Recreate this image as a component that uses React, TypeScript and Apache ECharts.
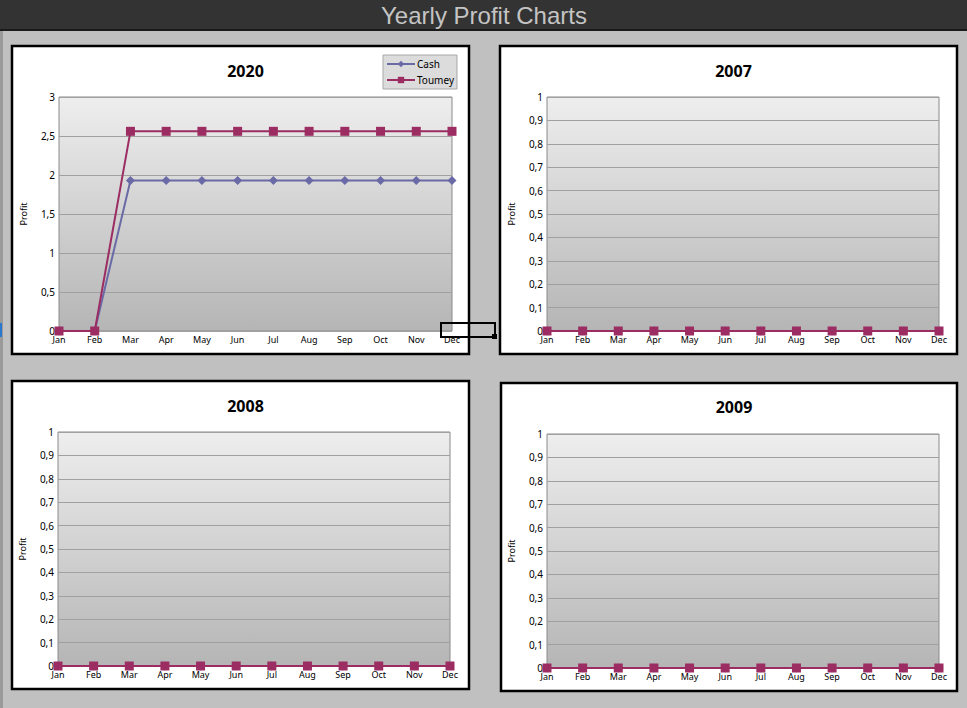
import React, { useEffect, useRef } from "react";
import * as echarts from "echarts";

const months = ["Jan", "Feb", "Mar", "Apr", "May", "Jun", "Jul", "Aug", "Sep", "Oct", "Nov", "Dec"];
const panelYears = ["2020", "2007", "2008", "2009"];
const cash2020 = [0, 0, 1.93, 1.93, 1.93, 1.93, 1.93, 1.93, 1.93, 1.93, 1.93, 1.93];
const toumey2020 = [0, 0, 2.56, 2.56, 2.56, 2.56, 2.56, 2.56, 2.56, 2.56, 2.56, 2.56];
const cash2007 = [0, 0, 0, 0, 0, 0, 0, 0, 0, 0, 0, 0];
const toumey2007 = [0, 0, 0, 0, 0, 0, 0, 0, 0, 0, 0, 0];
const cash2008 = [0, 0, 0, 0, 0, 0, 0, 0, 0, 0, 0, 0];
const toumey2008 = [0, 0, 0, 0, 0, 0, 0, 0, 0, 0, 0, 0];
const cash2009 = [0, 0, 0, 0, 0, 0, 0, 0, 0, 0, 0, 0];
const toumey2009 = [0, 0, 0, 0, 0, 0, 0, 0, 0, 0, 0, 0];
const yMax = [3, 1, 1, 1];
const yStep = [0.5, 0.1, 0.1, 0.1];
const seriesNames = ["Cash", "Toumey"];

const cashData = [cash2020, cash2007, cash2008, cash2009];
const toumeyData = [toumey2020, toumey2007, toumey2008, toumey2009];

// layout (pixels)
const panels = [
  { x: 12, y: 46, w: 457, h: 308 },
  { x: 500, y: 46, w: 457, h: 308 },
  { x: 12, y: 381, w: 457, h: 308 },
  { x: 501, y: 383, w: 456, h: 308 },
];
const grids = [
  { left: 59, top: 97, width: 393, height: 234 },
  { left: 547, top: 97, width: 392, height: 234 },
  { left: 58, top: 432, width: 392, height: 234 },
  { left: 547, top: 434, width: 392, height: 234 },
];
const titleY = [58, 58, 393, 394];

const CASH_COLOR = "#6a6aa6";
const TOUMEY_COLOR = "#9b2d63";
const FONT = "'Noto Sans', 'DejaVu Sans', sans-serif";

export default function App() {
  const ref = useRef<HTMLDivElement>(null);
  useEffect(() => {
    if (!ref.current) return;
    const chart = echarts.init(ref.current, undefined, { renderer: "svg" });
    const grad = {
      type: "linear",
      x: 0,
      y: 0,
      x2: 0,
      y2: 1,
      colorStops: [
        { offset: 0, color: "#eeeeee" },
        { offset: 1, color: "#b5b5b5" },
      ],
    };
    const fmt = (v: number) => String(+v.toFixed(2)).replace(".", ",");
    const option: any = {
      animation: false,
      backgroundColor: "#c0c0c0",
      title: panelYears.map((t, i) => ({
        text: t,
        left: panels[i].x + panels[i].w / 2,
        top: titleY[i],
        textAlign: "center",
        textStyle: { fontFamily: FONT, fontSize: 16, fontWeight: "bold", color: "#000" },
      })),
      legend: {
        data: seriesNames,
        orient: "vertical",
        left: 383,
        top: 55,
        itemWidth: 28,
        itemHeight: 8,
        itemGap: 6,
        padding: [4, 3, 4, 3],
        backgroundColor: "#dcdcdc",
        borderColor: "#a8a8a8",
        borderWidth: 1,
        borderRadius: 0,
        textStyle: { fontFamily: FONT, fontSize: 10, color: "#000", padding: [0, 0, 0, -3] },
      },
      grid: grids.map((g) => ({
        ...g,
        show: true,
        backgroundColor: grad,
        borderColor: "#8a8a8a",
        borderWidth: 1,
        containLabel: false,
      })),
      xAxis: grids.map((_, i) => ({
        type: "category",
        gridIndex: i,
        data: months,
        boundaryGap: false,
        axisLine: { show: false },
        axisTick: { show: false },
        axisLabel: { fontFamily: FONT, fontSize: 9, color: "#000", margin: 4, interval: 0 },
        splitLine: { show: false },
      })),
      yAxis: grids.map((_, i) => ({
        type: "value",
        gridIndex: i,
        min: 0,
        max: yMax[i],
        interval: yStep[i],
        name: "Profit",
        nameLocation: "middle",
        nameGap: 31,
        nameRotate: 90,
        nameTextStyle: { fontFamily: FONT, fontSize: 9, color: "#000" },
        axisLine: { show: false },
        axisTick: { show: false },
        axisLabel: { fontFamily: FONT, fontSize: 10, color: "#000", margin: 4, formatter: fmt },
        splitLine: { show: true, lineStyle: { color: "#a0a0a0", width: 1 } },
      })),
      series: grids.flatMap((_, i) => [
        {
          name: "Cash",
          type: "line",
          xAxisIndex: i,
          yAxisIndex: i,
          data: cashData[i],
          symbol: "diamond",
          symbolSize: 9,
          showAllSymbol: true,
          color: CASH_COLOR,
          lineStyle: { color: CASH_COLOR, width: 2 },
          itemStyle: { color: CASH_COLOR },
          z: 3,
        },
        {
          name: "Toumey",
          type: "line",
          xAxisIndex: i,
          yAxisIndex: i,
          data: toumeyData[i],
          symbol: "rect",
          symbolSize: 9,
          showAllSymbol: true,
          color: TOUMEY_COLOR,
          lineStyle: { color: TOUMEY_COLOR, width: 2 },
          itemStyle: { color: TOUMEY_COLOR },
          z: 4,
        },
      ]),
      graphic: [
        { type: "rect", z: -10, shape: { x: 0, y: 0, width: 967, height: 29 }, style: { fill: "#333333" } },
        { type: "rect", z: -10, shape: { x: 0, y: 29, width: 967, height: 2 }, style: { fill: "#1a1a1a" } },
        { type: "rect", z: -10, shape: { x: 0, y: 31, width: 3, height: 677 }, style: { fill: "#9a9a9a" } },
        { type: "rect", z: -10, shape: { x: 0, y: 323, width: 2, height: 14 }, style: { fill: "#2a78d0" } },
        {
          type: "text",
          z: 10,
          x: 484,
          y: 15,
          style: {
            text: "Yearly Profit Charts",
            fill: "#c4c4c4",
            font: "24px 'Liberation Sans', Arial, sans-serif",
            textAlign: "center",
            textVerticalAlign: "middle",
          },
        },
        ...panels.map((p) => ({
          type: "rect",
          z: -10,
          shape: { x: p.x, y: p.y, width: p.w, height: p.h },
          style: { fill: "#ffffff", stroke: "#000000", lineWidth: 2.5 },
        })),
        { type: "rect", z: 100, shape: { x: 441, y: 323, width: 54, height: 14 }, style: { fill: "none", stroke: "#000", lineWidth: 2 } },
        { type: "rect", z: 100, shape: { x: 492, y: 334, width: 5, height: 5 }, style: { fill: "#000" } },
      ],
    };
    chart.setOption(option);
    return () => chart.dispose();
  }, []);
  return (
    <div
      ref={ref}
      style={{ position: "fixed", left: 0, top: 0, width: 967, height: 708 }}
    />
  );
}
